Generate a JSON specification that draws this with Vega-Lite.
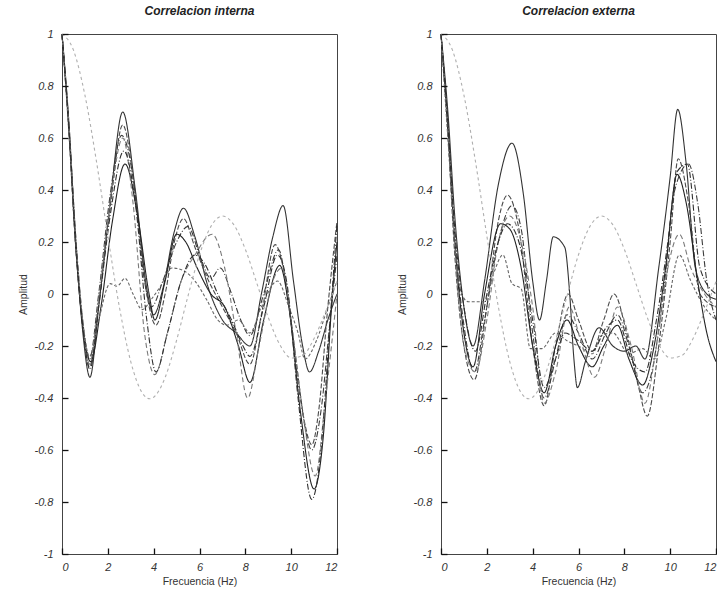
{
"$schema": "https://vega.github.io/schema/vega-lite/v6.json",
"padding": {"left": 17, "top": 4, "right": 0, "bottom": 0},
"background": "white",
"spacing": 56,
"data": {"values": [
{"p":"i","s":"a","x":0,"y":1},{"p":"i","s":"a","x":0.3,"y":0.66},{"p":"i","s":"a","x":0.6,"y":0.2},{"p":"i","s":"a","x":0.9,"y":-0.14},{"p":"i","s":"a","x":1.22,"y":-0.32},{"p":"i","s":"a","x":1.6,"y":-0.05},{"p":"i","s":"a","x":2.1,"y":0.35},{"p":"i","s":"a","x":2.65,"y":0.7},{"p":"i","s":"a","x":3.2,"y":0.4},{"p":"i","s":"a","x":3.7,"y":0.02},{"p":"i","s":"a","x":4.0,"y":-0.08},{"p":"i","s":"a","x":4.4,"y":0.02},{"p":"i","s":"a","x":4.9,"y":0.24},{"p":"i","s":"a","x":5.3,"y":0.33},{"p":"i","s":"a","x":5.8,"y":0.22},{"p":"i","s":"a","x":6.4,"y":0.02},{"p":"i","s":"a","x":7.0,"y":-0.1},{"p":"i","s":"a","x":7.6,"y":-0.15},{"p":"i","s":"a","x":8.2,"y":-0.2},{"p":"i","s":"a","x":8.7,"y":0.0},{"p":"i","s":"a","x":9.2,"y":0.22},{"p":"i","s":"a","x":9.65,"y":0.34},{"p":"i","s":"a","x":10.1,"y":0.05},{"p":"i","s":"a","x":10.5,"y":-0.2},{"p":"i","s":"a","x":10.8,"y":-0.3},{"p":"i","s":"a","x":11.2,"y":-0.22},{"p":"i","s":"a","x":11.6,"y":-0.1},{"p":"i","s":"a","x":12,"y":0.0},
{"p":"i","s":"b","x":0,"y":1},{"p":"i","s":"b","x":0.3,"y":0.64},{"p":"i","s":"b","x":0.6,"y":0.18},{"p":"i","s":"b","x":0.9,"y":-0.12},{"p":"i","s":"b","x":1.2,"y":-0.28},{"p":"i","s":"b","x":1.6,"y":-0.04},{"p":"i","s":"b","x":2.1,"y":0.33},{"p":"i","s":"b","x":2.65,"y":0.65},{"p":"i","s":"b","x":3.2,"y":0.38},{"p":"i","s":"b","x":3.7,"y":0.0},{"p":"i","s":"b","x":4.1,"y":-0.12},{"p":"i","s":"b","x":4.5,"y":0.0},{"p":"i","s":"b","x":4.9,"y":0.2},{"p":"i","s":"b","x":5.3,"y":0.29},{"p":"i","s":"b","x":5.8,"y":0.18},{"p":"i","s":"b","x":6.4,"y":0.05},{"p":"i","s":"b","x":7.0,"y":-0.05},{"p":"i","s":"b","x":7.6,"y":-0.15},{"p":"i","s":"b","x":8.2,"y":-0.27},{"p":"i","s":"b","x":8.7,"y":-0.08},{"p":"i","s":"b","x":9.3,"y":0.19},{"p":"i","s":"b","x":9.7,"y":0.08},{"p":"i","s":"b","x":10.2,"y":-0.25},{"p":"i","s":"b","x":10.6,"y":-0.5},{"p":"i","s":"b","x":10.9,"y":-0.58},{"p":"i","s":"b","x":11.2,"y":-0.45},{"p":"i","s":"b","x":11.6,"y":-0.05},{"p":"i","s":"b","x":12,"y":0.28},
{"p":"i","s":"c","x":0,"y":1},{"p":"i","s":"c","x":0.3,"y":0.65},{"p":"i","s":"c","x":0.6,"y":0.22},{"p":"i","s":"c","x":0.9,"y":-0.1},{"p":"i","s":"c","x":1.2,"y":-0.25},{"p":"i","s":"c","x":1.6,"y":0.0},{"p":"i","s":"c","x":2.1,"y":0.38},{"p":"i","s":"c","x":2.6,"y":0.61},{"p":"i","s":"c","x":3.1,"y":0.45},{"p":"i","s":"c","x":3.6,"y":0.05},{"p":"i","s":"c","x":3.9,"y":-0.05},{"p":"i","s":"c","x":4.4,"y":0.05},{"p":"i","s":"c","x":5.0,"y":0.2},{"p":"i","s":"c","x":5.5,"y":0.26},{"p":"i","s":"c","x":6.0,"y":0.15},{"p":"i","s":"c","x":6.5,"y":0.06},{"p":"i","s":"c","x":6.9,"y":0.1},{"p":"i","s":"c","x":7.4,"y":0.0},{"p":"i","s":"c","x":7.8,"y":-0.1},{"p":"i","s":"c","x":8.2,"y":-0.16},{"p":"i","s":"c","x":8.8,"y":0.0},{"p":"i","s":"c","x":9.45,"y":0.17},{"p":"i","s":"c","x":9.9,"y":-0.05},{"p":"i","s":"c","x":10.4,"y":-0.4},{"p":"i","s":"c","x":10.9,"y":-0.6},{"p":"i","s":"c","x":11.3,"y":-0.45},{"p":"i","s":"c","x":11.7,"y":-0.1},{"p":"i","s":"c","x":12,"y":0.15},
{"p":"i","s":"d","x":0,"y":1},{"p":"i","s":"d","x":0.3,"y":0.63},{"p":"i","s":"d","x":0.6,"y":0.18},{"p":"i","s":"d","x":0.9,"y":-0.12},{"p":"i","s":"d","x":1.25,"y":-0.26},{"p":"i","s":"d","x":1.7,"y":-0.05},{"p":"i","s":"d","x":2.2,"y":0.28},{"p":"i","s":"d","x":2.75,"y":0.5},{"p":"i","s":"d","x":3.3,"y":0.3},{"p":"i","s":"d","x":3.8,"y":0.0},{"p":"i","s":"d","x":4.05,"y":-0.1},{"p":"i","s":"d","x":4.5,"y":0.05},{"p":"i","s":"d","x":5.0,"y":0.23},{"p":"i","s":"d","x":5.4,"y":0.2},{"p":"i","s":"d","x":5.9,"y":0.1},{"p":"i","s":"d","x":6.5,"y":0.0},{"p":"i","s":"d","x":7.1,"y":-0.05},{"p":"i","s":"d","x":7.7,"y":-0.2},{"p":"i","s":"d","x":8.2,"y":-0.34},{"p":"i","s":"d","x":8.8,"y":-0.1},{"p":"i","s":"d","x":9.5,"y":0.11},{"p":"i","s":"d","x":9.9,"y":-0.05},{"p":"i","s":"d","x":10.4,"y":-0.45},{"p":"i","s":"d","x":11.0,"y":-0.75},{"p":"i","s":"d","x":11.4,"y":-0.55},{"p":"i","s":"d","x":11.8,"y":0.0},{"p":"i","s":"d","x":12,"y":0.2},
{"p":"i","s":"e","x":0,"y":1},{"p":"i","s":"e","x":0.3,"y":0.62},{"p":"i","s":"e","x":0.6,"y":0.18},{"p":"i","s":"e","x":0.9,"y":-0.1},{"p":"i","s":"e","x":1.2,"y":-0.24},{"p":"i","s":"e","x":1.6,"y":-0.1},{"p":"i","s":"e","x":2.1,"y":0.04},{"p":"i","s":"e","x":2.4,"y":0.03},{"p":"i","s":"e","x":2.75,"y":0.06},{"p":"i","s":"e","x":3.1,"y":0.0},{"p":"i","s":"e","x":3.5,"y":-0.06},{"p":"i","s":"e","x":3.9,"y":-0.02},{"p":"i","s":"e","x":4.3,"y":0.03},{"p":"i","s":"e","x":4.8,"y":0.1},{"p":"i","s":"e","x":5.3,"y":0.09},{"p":"i","s":"e","x":5.8,"y":0.05},{"p":"i","s":"e","x":6.3,"y":-0.02},{"p":"i","s":"e","x":6.8,"y":-0.1},{"p":"i","s":"e","x":7.2,"y":-0.12},{"p":"i","s":"e","x":7.7,"y":-0.1},{"p":"i","s":"e","x":8.2,"y":-0.15},{"p":"i","s":"e","x":8.7,"y":-0.05},{"p":"i","s":"e","x":9.4,"y":0.05},{"p":"i","s":"e","x":9.9,"y":-0.05},{"p":"i","s":"e","x":10.3,"y":-0.15},{"p":"i","s":"e","x":10.6,"y":-0.25},{"p":"i","s":"e","x":11.1,"y":-0.18},{"p":"i","s":"e","x":11.6,"y":-0.05},{"p":"i","s":"e","x":12,"y":0.05},
{"p":"i","s":"f","x":0,"y":1},{"p":"i","s":"f","x":0.3,"y":0.66},{"p":"i","s":"f","x":0.6,"y":0.22},{"p":"i","s":"f","x":0.9,"y":-0.1},{"p":"i","s":"f","x":1.2,"y":-0.27},{"p":"i","s":"f","x":1.6,"y":-0.02},{"p":"i","s":"f","x":2.1,"y":0.35},{"p":"i","s":"f","x":2.65,"y":0.6},{"p":"i","s":"f","x":3.1,"y":0.35},{"p":"i","s":"f","x":3.6,"y":-0.15},{"p":"i","s":"f","x":4.05,"y":-0.31},{"p":"i","s":"f","x":4.6,"y":-0.15},{"p":"i","s":"f","x":5.2,"y":0.05},{"p":"i","s":"f","x":5.8,"y":0.15},{"p":"i","s":"f","x":6.55,"y":0.23},{"p":"i","s":"f","x":7.1,"y":0.1},{"p":"i","s":"f","x":7.6,"y":-0.15},{"p":"i","s":"f","x":8.1,"y":-0.4},{"p":"i","s":"f","x":8.6,"y":-0.2},{"p":"i","s":"f","x":9.2,"y":0.05},{"p":"i","s":"f","x":9.6,"y":0.1},{"p":"i","s":"f","x":10.0,"y":-0.1},{"p":"i","s":"f","x":10.5,"y":-0.45},{"p":"i","s":"f","x":11.05,"y":-0.7},{"p":"i","s":"f","x":11.5,"y":-0.4},{"p":"i","s":"f","x":12,"y":0.0},
{"p":"i","s":"g","x":0,"y":1},{"p":"i","s":"g","x":0.3,"y":0.64},{"p":"i","s":"g","x":0.6,"y":0.2},{"p":"i","s":"g","x":0.9,"y":-0.12},{"p":"i","s":"g","x":1.22,"y":-0.29},{"p":"i","s":"g","x":1.6,"y":-0.05},{"p":"i","s":"g","x":2.1,"y":0.3},{"p":"i","s":"g","x":2.7,"y":0.55},{"p":"i","s":"g","x":3.2,"y":0.35},{"p":"i","s":"g","x":3.7,"y":-0.1},{"p":"i","s":"g","x":4.1,"y":-0.3},{"p":"i","s":"g","x":4.6,"y":-0.15},{"p":"i","s":"g","x":5.2,"y":0.05},{"p":"i","s":"g","x":5.8,"y":0.15},{"p":"i","s":"g","x":6.2,"y":0.12},{"p":"i","s":"g","x":6.8,"y":0.0},{"p":"i","s":"g","x":7.4,"y":-0.1},{"p":"i","s":"g","x":7.9,"y":-0.2},{"p":"i","s":"g","x":8.2,"y":-0.24},{"p":"i","s":"g","x":8.8,"y":-0.05},{"p":"i","s":"g","x":9.4,"y":0.15},{"p":"i","s":"g","x":9.8,"y":0.05},{"p":"i","s":"g","x":10.3,"y":-0.4},{"p":"i","s":"g","x":10.9,"y":-0.79},{"p":"i","s":"g","x":11.3,"y":-0.6},{"p":"i","s":"g","x":11.7,"y":-0.1},{"p":"i","s":"g","x":12,"y":0.27},
{"p":"i","s":"j","x":0,"y":1},{"p":"i","s":"j","x":0.5,"y":0.938},{"p":"i","s":"j","x":1,"y":0.765},{"p":"i","s":"j","x":1.5,"y":0.512},{"p":"i","s":"j","x":2,"y":0.224},{"p":"i","s":"j","x":2.5,"y":-0.048},{"p":"i","s":"j","x":3,"y":-0.26},{"p":"i","s":"j","x":3.5,"y":-0.38},{"p":"i","s":"j","x":3.83,"y":-0.403},{"p":"i","s":"j","x":4,"y":-0.397},{"p":"i","s":"j","x":4.5,"y":-0.321},{"p":"i","s":"j","x":5,"y":-0.178},{"p":"i","s":"j","x":5.5,"y":-0.007},{"p":"i","s":"j","x":6,"y":0.151},{"p":"i","s":"j","x":6.5,"y":0.26},{"p":"i","s":"j","x":7,"y":0.3},{"p":"i","s":"j","x":7.5,"y":0.266},{"p":"i","s":"j","x":8,"y":0.172},{"p":"i","s":"j","x":8.5,"y":0.042},{"p":"i","s":"j","x":9,"y":-0.09},{"p":"i","s":"j","x":9.5,"y":-0.194},{"p":"i","s":"j","x":10,"y":-0.246},{"p":"i","s":"j","x":10.5,"y":-0.237},{"p":"i","s":"j","x":11,"y":-0.171},{"p":"i","s":"j","x":11.5,"y":-0.068},{"p":"i","s":"j","x":12,"y":0.048},
{"p":"e","s":"a","x":0,"y":1},{"p":"e","s":"a","x":0.3,"y":0.7},{"p":"e","s":"a","x":0.6,"y":0.3},{"p":"e","s":"a","x":1.0,"y":-0.05},{"p":"e","s":"a","x":1.4,"y":-0.2},{"p":"e","s":"a","x":1.9,"y":0.05},{"p":"e","s":"a","x":2.5,"y":0.42},{"p":"e","s":"a","x":3.1,"y":0.58},{"p":"e","s":"a","x":3.6,"y":0.38},{"p":"e","s":"a","x":4.0,"y":0.05},{"p":"e","s":"a","x":4.3,"y":-0.1},{"p":"e","s":"a","x":4.6,"y":0.05},{"p":"e","s":"a","x":4.9,"y":0.22},{"p":"e","s":"a","x":5.4,"y":0.18},{"p":"e","s":"a","x":5.6,"y":0.02},{"p":"e","s":"a","x":5.8,"y":-0.25},{"p":"e","s":"a","x":5.95,"y":-0.36},{"p":"e","s":"a","x":6.3,"y":-0.26},{"p":"e","s":"a","x":6.9,"y":-0.13},{"p":"e","s":"a","x":7.5,"y":-0.2},{"p":"e","s":"a","x":8.0,"y":-0.22},{"p":"e","s":"a","x":8.5,"y":-0.2},{"p":"e","s":"a","x":8.9,"y":-0.25},{"p":"e","s":"a","x":9.5,"y":0.1},{"p":"e","s":"a","x":10.0,"y":0.45},{"p":"e","s":"a","x":10.33,"y":0.71},{"p":"e","s":"a","x":10.7,"y":0.5},{"p":"e","s":"a","x":11.1,"y":0.1},{"p":"e","s":"a","x":11.6,"y":0.0},{"p":"e","s":"a","x":12,"y":-0.02},
{"p":"e","s":"b","x":0,"y":1},{"p":"e","s":"b","x":0.3,"y":0.62},{"p":"e","s":"b","x":0.6,"y":0.15},{"p":"e","s":"b","x":1.0,"y":-0.2},{"p":"e","s":"b","x":1.45,"y":-0.33},{"p":"e","s":"b","x":2.0,"y":-0.05},{"p":"e","s":"b","x":2.5,"y":0.28},{"p":"e","s":"b","x":2.9,"y":0.38},{"p":"e","s":"b","x":3.4,"y":0.25},{"p":"e","s":"b","x":4.0,"y":-0.2},{"p":"e","s":"b","x":4.5,"y":-0.43},{"p":"e","s":"b","x":5.0,"y":-0.2},{"p":"e","s":"b","x":5.55,"y":0.0},{"p":"e","s":"b","x":6.0,"y":-0.1},{"p":"e","s":"b","x":6.6,"y":-0.22},{"p":"e","s":"b","x":7.1,"y":-0.1},{"p":"e","s":"b","x":7.55,"y":0.0},{"p":"e","s":"b","x":8.1,"y":-0.15},{"p":"e","s":"b","x":8.6,"y":-0.35},{"p":"e","s":"b","x":9.0,"y":-0.47},{"p":"e","s":"b","x":9.5,"y":-0.2},{"p":"e","s":"b","x":10.0,"y":0.2},{"p":"e","s":"b","x":10.35,"y":0.52},{"p":"e","s":"b","x":10.8,"y":0.35},{"p":"e","s":"b","x":11.3,"y":0.0},{"p":"e","s":"b","x":12,"y":-0.05},
{"p":"e","s":"c","x":0,"y":1},{"p":"e","s":"c","x":0.3,"y":0.66},{"p":"e","s":"c","x":0.6,"y":0.22},{"p":"e","s":"c","x":1.0,"y":-0.12},{"p":"e","s":"c","x":1.45,"y":-0.3},{"p":"e","s":"c","x":1.9,"y":-0.1},{"p":"e","s":"c","x":2.5,"y":0.2},{"p":"e","s":"c","x":3.1,"y":0.34},{"p":"e","s":"c","x":3.5,"y":0.25},{"p":"e","s":"c","x":4.0,"y":-0.15},{"p":"e","s":"c","x":4.5,"y":-0.4},{"p":"e","s":"c","x":5.0,"y":-0.25},{"p":"e","s":"c","x":5.5,"y":-0.08},{"p":"e","s":"c","x":6.0,"y":-0.15},{"p":"e","s":"c","x":6.6,"y":-0.25},{"p":"e","s":"c","x":7.2,"y":-0.15},{"p":"e","s":"c","x":7.7,"y":-0.08},{"p":"e","s":"c","x":8.2,"y":-0.2},{"p":"e","s":"c","x":8.8,"y":-0.38},{"p":"e","s":"c","x":9.2,"y":-0.3},{"p":"e","s":"c","x":9.7,"y":0.0},{"p":"e","s":"c","x":10.2,"y":0.4},{"p":"e","s":"c","x":10.8,"y":0.5},{"p":"e","s":"c","x":11.2,"y":0.35},{"p":"e","s":"c","x":11.6,"y":0.05},{"p":"e","s":"c","x":12,"y":-0.1},
{"p":"e","s":"d","x":0,"y":1},{"p":"e","s":"d","x":0.3,"y":0.64},{"p":"e","s":"d","x":0.6,"y":0.2},{"p":"e","s":"d","x":1.0,"y":-0.15},{"p":"e","s":"d","x":1.4,"y":-0.28},{"p":"e","s":"d","x":1.9,"y":0.0},{"p":"e","s":"d","x":2.6,"y":0.27},{"p":"e","s":"d","x":3.0,"y":0.25},{"p":"e","s":"d","x":3.5,"y":0.1},{"p":"e","s":"d","x":4.0,"y":-0.2},{"p":"e","s":"d","x":4.5,"y":-0.38},{"p":"e","s":"d","x":5.0,"y":-0.2},{"p":"e","s":"d","x":5.5,"y":-0.1},{"p":"e","s":"d","x":6.0,"y":-0.2},{"p":"e","s":"d","x":6.6,"y":-0.28},{"p":"e","s":"d","x":7.1,"y":-0.2},{"p":"e","s":"d","x":7.7,"y":-0.12},{"p":"e","s":"d","x":8.2,"y":-0.25},{"p":"e","s":"d","x":8.8,"y":-0.35},{"p":"e","s":"d","x":9.3,"y":-0.2},{"p":"e","s":"d","x":9.8,"y":0.1},{"p":"e","s":"d","x":10.3,"y":0.46},{"p":"e","s":"d","x":10.7,"y":0.35},{"p":"e","s":"d","x":11.2,"y":0.05},{"p":"e","s":"d","x":11.6,"y":-0.15},{"p":"e","s":"d","x":12,"y":-0.26},
{"p":"e","s":"e","x":0,"y":1},{"p":"e","s":"e","x":0.3,"y":0.6},{"p":"e","s":"e","x":0.6,"y":0.22},{"p":"e","s":"e","x":0.9,"y":0.0},{"p":"e","s":"e","x":1.2,"y":-0.03},{"p":"e","s":"e","x":1.9,"y":-0.03},{"p":"e","s":"e","x":2.3,"y":0.08},{"p":"e","s":"e","x":2.7,"y":0.15},{"p":"e","s":"e","x":3.1,"y":0.04},{"p":"e","s":"e","x":3.5,"y":0.02},{"p":"e","s":"e","x":3.9,"y":-0.21},{"p":"e","s":"e","x":4.4,"y":-0.21},{"p":"e","s":"e","x":5.0,"y":-0.15},{"p":"e","s":"e","x":5.5,"y":-0.18},{"p":"e","s":"e","x":6.0,"y":-0.2},{"p":"e","s":"e","x":6.6,"y":-0.23},{"p":"e","s":"e","x":7.0,"y":-0.16},{"p":"e","s":"e","x":7.5,"y":-0.15},{"p":"e","s":"e","x":8.2,"y":-0.23},{"p":"e","s":"e","x":8.8,"y":-0.21},{"p":"e","s":"e","x":9.3,"y":-0.25},{"p":"e","s":"e","x":9.8,"y":-0.1},{"p":"e","s":"e","x":10.4,"y":0.15},{"p":"e","s":"e","x":10.9,"y":0.05},{"p":"e","s":"e","x":11.5,"y":-0.05},{"p":"e","s":"e","x":12,"y":-0.1},
{"p":"e","s":"f","x":0,"y":1},{"p":"e","s":"f","x":0.3,"y":0.63},{"p":"e","s":"f","x":0.6,"y":0.18},{"p":"e","s":"f","x":1.0,"y":-0.2},{"p":"e","s":"f","x":1.5,"y":-0.3},{"p":"e","s":"f","x":2.0,"y":-0.1},{"p":"e","s":"f","x":2.5,"y":0.2},{"p":"e","s":"f","x":3.0,"y":0.3},{"p":"e","s":"f","x":3.5,"y":0.2},{"p":"e","s":"f","x":4.0,"y":-0.05},{"p":"e","s":"f","x":4.5,"y":-0.42},{"p":"e","s":"f","x":5.0,"y":-0.3},{"p":"e","s":"f","x":5.6,"y":-0.05},{"p":"e","s":"f","x":6.1,"y":-0.18},{"p":"e","s":"f","x":6.7,"y":-0.32},{"p":"e","s":"f","x":7.2,"y":-0.2},{"p":"e","s":"f","x":7.7,"y":-0.05},{"p":"e","s":"f","x":8.3,"y":-0.2},{"p":"e","s":"f","x":8.9,"y":-0.42},{"p":"e","s":"f","x":9.4,"y":-0.2},{"p":"e","s":"f","x":9.9,"y":0.1},{"p":"e","s":"f","x":10.4,"y":0.23},{"p":"e","s":"f","x":10.9,"y":0.1},{"p":"e","s":"f","x":11.5,"y":0.0},{"p":"e","s":"f","x":12,"y":-0.05},
{"p":"e","s":"g","x":0,"y":1},{"p":"e","s":"g","x":0.3,"y":0.65},{"p":"e","s":"g","x":0.6,"y":0.25},{"p":"e","s":"g","x":1.0,"y":-0.05},{"p":"e","s":"g","x":1.5,"y":-0.22},{"p":"e","s":"g","x":2.0,"y":0.0},{"p":"e","s":"g","x":2.5,"y":0.2},{"p":"e","s":"g","x":2.9,"y":0.27},{"p":"e","s":"g","x":3.4,"y":0.2},{"p":"e","s":"g","x":4.0,"y":-0.1},{"p":"e","s":"g","x":4.5,"y":-0.36},{"p":"e","s":"g","x":5.0,"y":-0.25},{"p":"e","s":"g","x":5.4,"y":-0.15},{"p":"e","s":"g","x":6.0,"y":-0.18},{"p":"e","s":"g","x":6.6,"y":-0.22},{"p":"e","s":"g","x":7.2,"y":-0.13},{"p":"e","s":"g","x":7.7,"y":-0.1},{"p":"e","s":"g","x":8.3,"y":-0.25},{"p":"e","s":"g","x":8.9,"y":-0.3},{"p":"e","s":"g","x":9.4,"y":-0.1},{"p":"e","s":"g","x":9.9,"y":0.2},{"p":"e","s":"g","x":10.3,"y":0.47},{"p":"e","s":"g","x":10.75,"y":0.5},{"p":"e","s":"g","x":11.3,"y":0.1},{"p":"e","s":"g","x":12,"y":0.0},
{"p":"e","s":"j","x":0,"y":1},{"p":"e","s":"j","x":0.5,"y":0.938},{"p":"e","s":"j","x":1,"y":0.765},{"p":"e","s":"j","x":1.5,"y":0.512},{"p":"e","s":"j","x":2,"y":0.224},{"p":"e","s":"j","x":2.5,"y":-0.048},{"p":"e","s":"j","x":3,"y":-0.26},{"p":"e","s":"j","x":3.5,"y":-0.38},{"p":"e","s":"j","x":3.83,"y":-0.403},{"p":"e","s":"j","x":4,"y":-0.397},{"p":"e","s":"j","x":4.5,"y":-0.321},{"p":"e","s":"j","x":5,"y":-0.178},{"p":"e","s":"j","x":5.5,"y":-0.007},{"p":"e","s":"j","x":6,"y":0.151},{"p":"e","s":"j","x":6.5,"y":0.26},{"p":"e","s":"j","x":7,"y":0.3},{"p":"e","s":"j","x":7.5,"y":0.266},{"p":"e","s":"j","x":8,"y":0.172},{"p":"e","s":"j","x":8.5,"y":0.042},{"p":"e","s":"j","x":9,"y":-0.09},{"p":"e","s":"j","x":9.5,"y":-0.194},{"p":"e","s":"j","x":10,"y":-0.246},{"p":"e","s":"j","x":10.5,"y":-0.237},{"p":"e","s":"j","x":11,"y":-0.171},{"p":"e","s":"j","x":11.5,"y":-0.068},{"p":"e","s":"j","x":12,"y":0.048}
]},
"hconcat": [
{
"width": 275, "height": 520,
"title": {"text": "Correlacion interna"},
"transform": [{"filter": "datum.p === 'i'"}],
"mark": {"type": "line", "interpolate": "monotone", "strokeWidth": 1.1},
"encoding": {
  "x": {"field": "x", "type": "quantitative", "scale": {"domain": [0, 12], "nice": false}, "axis": {"orient": "bottom", "values": [0,2,4,6,8,10,12], "title": "Frecuencia (Hz)", "ticks": true, "tickSize": -6, "tickColor": "#111111", "tickWidth": 1.3, "tickOpacity": 1, "labelPadding": 13, "zindex": 1}},
  "y": {"field": "y", "type": "quantitative", "scale": {"domain": [-1, 1], "nice": false}, "axis": {"orient": "left", "values": [-1,-0.8,-0.6,-0.4,-0.2,0,0.2,0.4,0.6,0.8,1], "title": "Amplitud", "format": ".1~f", "labelExpr": "replace(datum.label, '\u2212', '-')", "ticks": true, "tickSize": -6, "tickColor": "#111111", "tickWidth": 1.3, "tickOpacity": 1, "labelPadding": 15, "zindex": 1}},
  "detail": {"field": "s"},
  "color": {"field": "s", "type": "nominal", "legend": null, "scale": {"domain": ["a","b","c","d","e","f","g","j"], "range": ["#333333","#4a4a4a","#3c3c3c","#222222","#666666","#7a7a7a","#2e2e2e","#b0b0b0"]}},
  "strokeDash": {"field": "s", "type": "nominal", "legend": null, "scale": {"domain": ["a","b","c","d","e","f","g","j"], "range": [[1,0],[5,2],[6,2,1,2],[1,0],[3,2],[5,3],[6,2,1,2],[3,3]]}}
}
},
{
"width": 275, "height": 520,
"title": {"text": "Correlacion externa"},
"transform": [{"filter": "datum.p === 'e'"}],
"mark": {"type": "line", "interpolate": "monotone", "strokeWidth": 1.1},
"encoding": {
  "x": {"field": "x", "type": "quantitative", "scale": {"domain": [0, 12], "nice": false}, "axis": {"orient": "bottom", "values": [0,2,4,6,8,10,12], "title": "Frecuencia (Hz)", "ticks": true, "tickSize": -6, "tickColor": "#111111", "tickWidth": 1.3, "tickOpacity": 1, "labelPadding": 13, "zindex": 1}},
  "y": {"field": "y", "type": "quantitative", "scale": {"domain": [-1, 1], "nice": false}, "axis": {"orient": "left", "values": [-1,-0.8,-0.6,-0.4,-0.2,0,0.2,0.4,0.6,0.8,1], "title": "Amplitud", "format": ".1~f", "labelExpr": "replace(datum.label, '\u2212', '-')", "ticks": true, "tickSize": -6, "tickColor": "#111111", "tickWidth": 1.3, "tickOpacity": 1, "labelPadding": 15, "zindex": 1}},
  "detail": {"field": "s"},
  "color": {"field": "s", "type": "nominal", "legend": null, "scale": {"domain": ["a","b","c","d","e","f","g","j"], "range": ["#333333","#4a4a4a","#3c3c3c","#222222","#666666","#7a7a7a","#2e2e2e","#b0b0b0"]}},
  "strokeDash": {"field": "s", "type": "nominal", "legend": null, "scale": {"domain": ["a","b","c","d","e","f","g","j"], "range": [[1,0],[5,2],[6,2,1,2],[1,0],[3,2],[5,3],[6,2,1,2],[3,3]]}}
}
}
],
"config": {
 "font": "Liberation Sans",
 "view": {"stroke": "#444444", "strokeWidth": 1},
 "axis": {"grid": false, "domain": false, "labelFont": "Liberation Sans", "labelFontStyle": "italic", "labelFontSize": 11, "labelColor": "#333333", "titleFont": "Liberation Sans", "titleFontSize": 10.5, "titleFontWeight": "normal", "titleColor": "#333333"},
 "axisX": {"titlePadding": 4},
 "axisY": {"titlePadding": 6},
 "title": {"font": "Liberation Sans", "fontSize": 12, "fontStyle": "italic", "fontWeight": "bold", "color": "#222222", "offset": 10}
}
}
